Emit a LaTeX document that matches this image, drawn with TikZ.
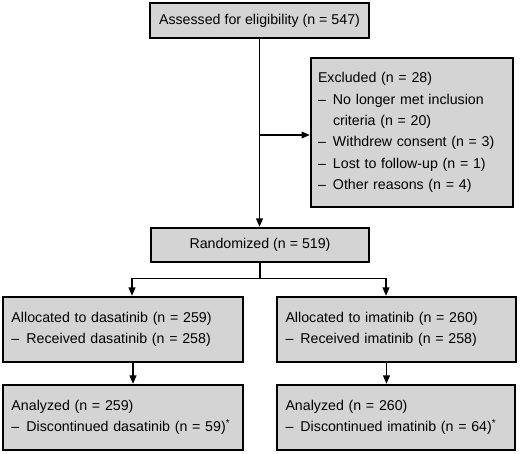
\documentclass[tikz,border=0pt]{standalone}
\usepackage{fontspec}
\setmainfont{Liberation Sans}
\usetikzlibrary{arrows.meta,calc}
\definecolor{boxgray}{RGB}{212,212,212}
\newcommand\itm[1]{\makebox[15pt][l]{–}#1}
\begin{document}
\begin{tikzpicture}[x=1pt,y=1pt,
  fbox/.style={draw=black,line width=2pt,fill=boxgray,inner ysep=4pt,
    font=\fontsize{14.2}{21.3}\selectfont},
  cbox/.style={fbox,align=center,minimum height=35pt},
  lbox/.style={fbox,align=left,inner xsep=8.5pt},
  conn/.style={line width=1.9pt,-{Triangle[length=8.5pt,width=6.5pt]}},
  plain/.style={line width=1.9pt}]
\useasboundingbox (0,0) rectangle (520,-454);
\node[cbox,minimum width=219pt] (top) at (259.5,-20.5) {Assessed for eligibility (n = 547)};
\node[lbox,text width=188pt,inner xsep=7pt,minimum height=149pt] (ex) at (412,-132.5)
  {Excluded (n = 28)\\
   \itm{No longer met inclusion}\\
   \hspace*{15pt}criteria (n = 20)\\
   \itm{Withdrew consent (n = 3)}\\
   \itm{Lost to follow-up (n = 1)}\\
   \itm{Other reasons (n = 4)}};
\node[cbox,minimum width=218pt,minimum height=34pt] (rand) at (260,-245) {Randomized (n = 519)};
\node[lbox,text width=223pt,minimum height=65pt] (a1) at (123,-329.5)
  {Allocated to dasatinib (n = 259)\\ \itm{Received dasatinib (n = 258)}};
\node[lbox,text width=222pt,minimum height=65pt] (a2) at (396.5,-329.5)
  {Allocated to imatinib (n = 260)\\ \itm{Received imatinib (n = 258)}};
\node[lbox,text width=223pt,minimum height=65pt] (b1) at (123,-417.5)
  {Analyzed (n = 259)\\ \itm{Discontinued dasatinib (n = 59)\textsuperscript{*}}};
\node[lbox,text width=221pt,minimum height=65pt] (b2) at (396,-417.5)
  {Analyzed (n = 260)\\ \itm{Discontinued imatinib (n = 64)\textsuperscript{*}}};
\draw[conn] (top.south) -- (top.south |- rand.north);
\coordinate (br) at ($(top.south |- ex.west)+(0,-2.5)$);
\draw[conn] (br) -- (br -| ex.west);
\coordinate (split) at ($(rand.south)+(0,-15.5)$);
\draw[plain] (rand.south) -- (split);
\draw[conn] (split) -| ([xshift=9pt]a1.north);
\draw[conn] (split) -| ([xshift=-10.5pt]a2.north);
\draw[conn] ([xshift=10pt]a1.south) -- ([xshift=10pt]b1.north);
\draw[conn] ([xshift=-10pt]a2.south) -- ([xshift=-10pt]a2.south |- b2.north);
\end{tikzpicture}
\end{document}
